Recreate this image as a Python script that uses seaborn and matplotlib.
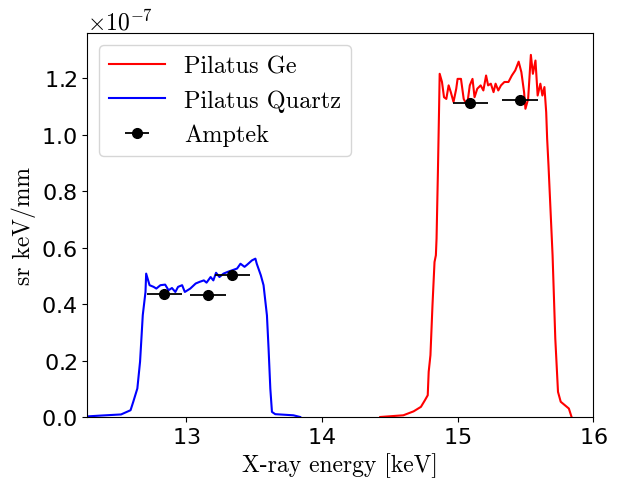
import matplotlib
matplotlib.use('Agg')
import matplotlib.pyplot as plt
import seaborn as sns
import numpy as np

## 측정 스펙트럼 (값은 x 1e-7 sr keV/mm)
quartz_e = [12.20, 12.37, 12.52, 12.59, 12.61, 12.64, 12.66, 12.67, 12.68, 12.70,
            12.705, 12.73, 12.76, 12.78, 12.81, 12.845, 12.87, 12.895, 12.92, 12.94,
            12.97, 12.99, 13.03, 13.07, 13.10, 13.13, 13.15, 13.18, 13.20, 13.22,
            13.245, 13.275, 13.305, 13.34, 13.375, 13.40, 13.43, 13.45, 13.485, 13.51,
            13.52, 13.55, 13.57, 13.595, 13.607, 13.62, 13.632, 13.656, 13.79, 13.84]
quartz_v = [0.0, 0.005, 0.009, 0.024, 0.054, 0.101, 0.196, 0.278, 0.361, 0.443,
            0.508, 0.467, 0.461, 0.455, 0.467, 0.469, 0.449, 0.457, 0.443, 0.461,
            0.467, 0.443, 0.455, 0.473, 0.479, 0.484, 0.476, 0.496, 0.484, 0.511,
            0.496, 0.508, 0.514, 0.52, 0.526, 0.543, 0.532, 0.54, 0.555, 0.561,
            0.543, 0.502, 0.467, 0.36, 0.243, 0.10, 0.018, 0.01, 0.006, 0.0]

ge_e = [14.43, 14.60, 14.676, 14.73, 14.76, 14.78, 14.787, 14.80, 14.815, 14.83,
        14.84, 14.845, 14.855, 14.864, 14.868, 14.885, 14.90, 14.917, 14.934, 14.95,
        14.97, 14.99, 15.00, 15.025, 15.045, 15.07, 15.09, 15.11, 15.125, 15.145,
        15.17, 15.19, 15.21, 15.225, 15.245, 15.265, 15.28, 15.30, 15.32, 15.345,
        15.375, 15.40, 15.425, 15.45, 15.47, 15.49, 15.50, 15.52, 15.54, 15.555,
        15.574, 15.59, 15.61, 15.625, 15.64, 15.653, 15.66, 15.67, 15.70, 15.72,
        15.74, 15.76, 15.79, 15.82, 15.84]
ge_v = [0.0, 0.006, 0.02, 0.036, 0.06, 0.077, 0.16, 0.219, 0.396, 0.549,
        0.573, 0.632, 0.868, 1.104, 1.216, 1.187, 1.133, 1.127, 1.175, 1.151,
        1.116, 1.163, 1.198, 1.198, 1.127, 1.104, 1.175, 1.198, 1.133, 1.163,
        1.175, 1.157, 1.21, 1.175, 1.181, 1.151, 1.181, 1.157, 1.175, 1.187,
        1.187, 1.21, 1.228, 1.259, 1.222, 1.151, 1.092, 1.127, 1.283, 1.216,
        1.263, 1.139, 1.181, 1.139, 1.169, 1.08, 0.986, 0.891, 0.573, 0.278,
        0.089, 0.054, 0.042, 0.03, 0.0]

## Amptek 측정점
amptek_e = [12.84, 13.16, 13.34, 15.094, 15.46]
amptek_v = [0.435, 0.431, 0.504, 1.112, 1.124]
amptek_xerr = [0.13, 0.13, 0.13, 0.13, 0.13]

scale = 1e-7
cm = 'cmr10'

plt.rcParams['mathtext.fontset'] = 'cm'
plt.rcParams['axes.formatter.use_mathtext'] = True

fig = plt.figure(figsize=(6.18, 4.81), dpi=100)
ax = fig.add_axes([0.141, 0.131, 0.819, 0.798])

sns.lineplot(x=ge_e, y=np.array(ge_v) * scale, color='red', lw=1.5,
             label='Pilatus Ge', ax=ax)
sns.lineplot(x=quartz_e, y=np.array(quartz_v) * scale, color='blue', lw=1.5,
             label='Pilatus Quartz', ax=ax)
ax.errorbar(amptek_e, np.array(amptek_v) * scale, xerr=amptek_xerr, fmt='o',
            color='black', ms=7, elinewidth=1.3, label='Amptek', zorder=5)

ax.set_xlim(12.27, 16)
ax.set_ylim(0, 1.36e-7)
ax.set_xticks([13, 14, 15, 16])
ax.tick_params(labelsize=16)

ax.set_xlabel('X-ray energy [keV]', fontsize=17, family=cm)
ax.set_ylabel('sr keV/mm', fontsize=17, family=cm)
ax.yaxis.get_offset_text().set_fontsize(17)
ax.yaxis.get_offset_text().set_family(cm)

ax.legend(loc='upper left', prop={'family': cm, 'size': 17.5}, handlelength=2.3)

plt.savefig('out.png', dpi=100)
